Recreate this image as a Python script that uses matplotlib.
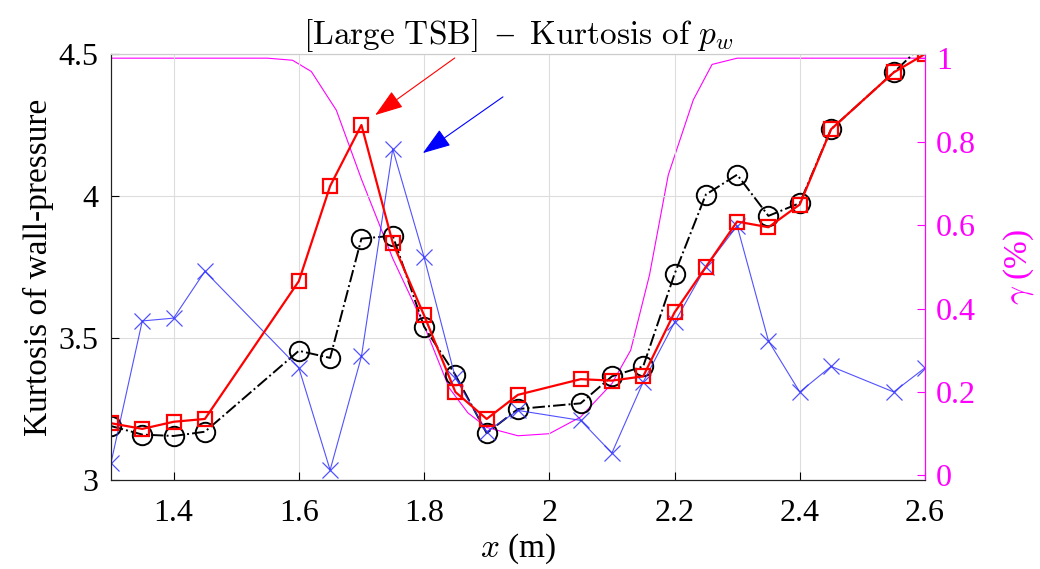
import matplotlib.pyplot as plt

plt.rcParams["font.family"] = ["Liberation Serif", "DejaVu Serif"]
plt.rcParams["mathtext.fontset"] = "cm"

# --- data
x_pts = [1.3, 1.35, 1.4, 1.45, 1.6, 1.65, 1.7, 1.75, 1.8, 1.85, 1.9, 1.95,
         2.05, 2.1, 2.15, 2.2, 2.25, 2.3, 2.35, 2.4, 2.45, 2.55, 2.6]

kurt_black = [3.19, 3.16, 3.155, 3.17, 3.455, 3.43, 3.85, 3.86, 3.54, 3.37,
              3.165, 3.25, 3.27, 3.365, 3.40, 3.725, 4.005, 4.075, 3.93,
              3.975, 4.235, 4.435, 4.54]
kurt_red = [3.2, 3.18, 3.205, 3.215, 3.70, 4.035, 4.25, 3.835, 3.58, 3.31,
            3.215, 3.30, 3.355, 3.35, 3.365, 3.59, 3.75, 3.91, 3.89,
            3.97, 4.235, 4.435, 4.5]
kurt_blue = [3.06, 3.56, 3.57, 3.735, 3.395, 3.035, 3.435, 4.165, 3.785,
             3.36, 3.17, 3.245, 3.21, 3.095, 3.345, 3.555, 3.75, 3.895,
             3.49, 3.31, 3.40, 3.31, 3.395]

gamma_x = [1.3, 1.55, 1.59, 1.62, 1.66, 1.70, 1.75, 1.80, 1.84, 1.87, 1.90,
           1.95, 2.00, 2.05, 2.10, 2.13, 2.16, 2.19, 2.23, 2.26, 2.30, 2.6]
gamma = [1.0, 1.0, 0.995, 0.968, 0.875, 0.71, 0.52, 0.36, 0.21, 0.15, 0.115,
         0.095, 0.10, 0.14, 0.22, 0.30, 0.48, 0.72, 0.90, 0.985, 1.0, 1.0]

xticks = [1.4, 1.6, 1.8, 2.0, 2.2, 2.4, 2.6]
xtick_labels = ["1.4", "1.6", "1.8", "2", "2.2", "2.4", "2.6"]
yticks = [3.0, 3.5, 4.0, 4.5]
ytick_labels = ["3", "3.5", "4", "4.5"]
gticks = [0, 0.2, 0.4, 0.6, 0.8, 1.0]
gtick_labels = ["0", "0.2", "0.4", "0.6", "0.8", "1"]

# arrow annotations (tail, head) in data units
red_arrow = ((1.849, 4.486), (1.722, 4.285))
blue_arrow = ((1.926, 4.349), (1.798, 4.151))

MAG = "#ff00ff"

fig = plt.figure(figsize=(10.4, 5.69), dpi=100)
ax = fig.add_axes([0.1067, 0.1564, 0.7827, 0.7487])
ax2 = ax.twinx()
ax.set_zorder(ax2.get_zorder() + 1)
ax.patch.set_visible(False)

# gamma on the right axis
ax2.plot(gamma_x, gamma, color=MAG, lw=0.8)
ax2.set_ylim(-0.011, 1.01)
ax2.set_yticks(gticks)
ax2.set_yticklabels(gtick_labels)
ax2.tick_params(axis="y", direction="in", colors=MAG, labelsize=23,
                length=6, pad=8)
ax2.set_ylabel(r"$\gamma$ (%)", color=MAG, fontsize=24, labelpad=18)

ax.plot(x_pts, kurt_black, color="black", ls="-.", lw=1.4, marker="o",
        ms=14, mfc="none", mec="black", mew=1.4)
ax.plot(x_pts, kurt_blue, color="#3333ff", lw=0.8, marker="x", ms=12,
        mew=0.9, alpha=0.85)
ax.plot(x_pts, kurt_red, color="red", lw=1.6, marker="s", ms=10,
        mfc="none", mec="red", mew=1.6)

ax.set_xlim(1.3, 2.6)
ax.set_ylim(3.0, 4.5)
ax.set_xticks(xticks)
ax.set_xticklabels(xtick_labels)
ax.set_yticks(yticks)
ax.set_yticklabels(ytick_labels)
ax.tick_params(direction="in", labelsize=23, length=6)
ax.tick_params(axis="x", pad=14)
ax.tick_params(axis="y", pad=9)
ax.grid(True, color="#dddddd", lw=0.8)

for a in (ax, ax2):
    a.spines["top"].set_color("#cccccc")
    a.spines["right"].set_color(MAG)
    a.spines["left"].set_color("#222222")
    a.spines["bottom"].set_color("#222222")

ax.set_xlabel(r"$x$ (m)", fontsize=24, labelpad=2)
ax.set_ylabel("Kurtosis of wall-pressure", fontsize=24, labelpad=3)
ax.set_title(r"$\mathrm{[Large\ TSB]}$  –  $\mathrm{Kurtosis\ of}\ p_w$",
             fontsize=24, pad=4)

for (tail, head), col in ((red_arrow, "red"), (blue_arrow, "blue")):
    ax.annotate("", xy=head, xytext=tail,
                arrowprops=dict(arrowstyle="-|>,head_length=1.1,head_width=0.38",
                                color=col, lw=0.8, mutation_scale=16,
                                shrinkA=0, shrinkB=0))

fig.savefig("out.png", dpi=100)
